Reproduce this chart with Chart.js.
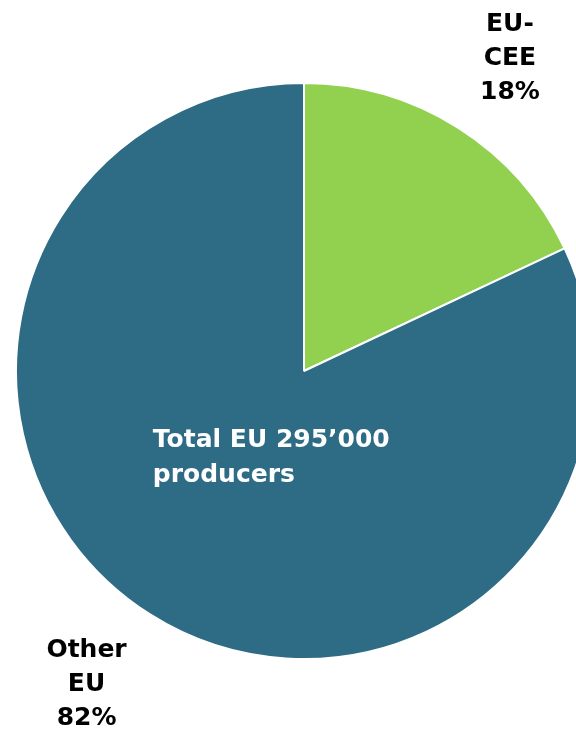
<!DOCTYPE html>
<html lang="en">
<head>
    <meta charset="UTF-8">
    <title>EU producers split</title>
    <script src="https://cdn.jsdelivr.net/npm/chart.js"></script>
    <style>
        body {
            margin: 0;
            background-color: #ffffff;
        }
        #pieChart {
            display: block;
        }
    </style>
</head>
<body>
    <canvas id="pieChart" width="576" height="737"></canvas>
    <script>
        // data
        const categories = ['EU-CEE', 'Other EU'];
        const shares = [18, 82];
        const sliceColors = ['#92D050', '#2E6B85'];
        const labelLines = [['EU-', 'CEE', '18%'], ['Other', 'EU', '82%']];
        const centerLines = ['Total EU 295\u2019000', 'producers'];

        // label anchors, in units of the pie radius from its centre
        const labelAnchors = [[0.715, -1.085], [-0.755, 1.09]];

        const labelPlugin = {
            id: 'sliceLabels',
            afterDatasetsDraw(chart) {
                const ctx = chart.ctx;
                const arcs = chart.getDatasetMeta(0).data;
                if (!arcs.length) return;
                const cx = arcs[0].x;
                const cy = arcs[0].y;
                const r = arcs[0].outerRadius;
                const font = 'bold 25px "DejaVu Sans", sans-serif';
                const lineHeight = 34;

                ctx.save();
                ctx.font = font;
                ctx.textAlign = 'center';
                ctx.textBaseline = 'middle';
                ctx.fillStyle = '#000000';
                labelLines.forEach((lines, i) => {
                    const x = cx + labelAnchors[i][0] * r;
                    const y = cy + labelAnchors[i][1] * r;
                    const top = y - (lines.length - 1) * lineHeight / 2;
                    lines.forEach((line, j) => {
                        ctx.fillText(line, x, top + j * lineHeight);
                    });
                });

                // centre caption
                ctx.textAlign = 'left';
                ctx.textBaseline = 'alphabetic';
                ctx.fillStyle = '#ffffff';
                centerLines.forEach((line, j) => {
                    ctx.fillText(line, cx - 0.525 * r, cy + 0.264 * r + j * 35);
                });
                ctx.restore();
            }
        };

        const ctx = document.getElementById('pieChart').getContext('2d');
        new Chart(ctx, {
            type: 'pie',
            data: {
                labels: categories,
                datasets: [{
                    data: shares,
                    backgroundColor: sliceColors,
                    borderColor: '#ffffff',
                    borderWidth: 2,
                    clip: false
                }]
            },
            options: {
                responsive: false,
                animation: false,
                radius: 288,
                layout: {
                    padding: { left: 32, right: 0, top: 5, bottom: 0 }
                },
                plugins: {
                    legend: { display: false },
                    tooltip: { enabled: false }
                }
            },
            plugins: [labelPlugin]
        });
    </script>
</body>
</html>
